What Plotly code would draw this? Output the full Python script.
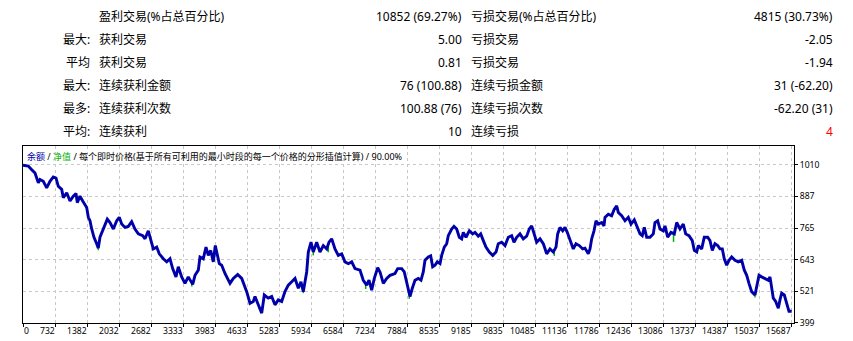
import plotly.graph_objects as go
import numpy as np

# ---------------- data ----------------
trade_no = [
    82, 189, 259, 326, 393, 427, 494, 563, 630, 697,
    752, 799, 868, 901, 970, 1037, 1104, 1159, 1185, 1240,
    1295, 1342, 1376, 1409, 1443, 1478, 1524, 1579, 1612, 1646,
    1701, 1748, 1795, 1850, 1917, 1986, 2038, 2087, 2154, 2221,
    2290, 2357, 2425, 2514, 2561, 2628, 2677, 2729, 2798, 2851,
    2933, 3002, 3069, 3123, 3190, 3237, 3306, 3373, 3440, 3530,
    3577, 3644, 3678, 3745, 3800, 3847, 3896, 3948, 3989, 4030,
    4070, 4119, 4186, 4288, 4355, 4444, 4526, 4627, 4694, 4761,
    4796, 4863, 4932, 4985, 5066, 5135, 5202, 5269, 5338, 5405,
    5472, 5542, 5609, 5676, 5730, 5777, 5846, 5879, 5934, 5980,
    6049, 6116, 6184, 6253, 6299, 6354, 6421, 6488, 6557, 6625,
    6692, 6761, 6828, 6929, 6996, 7065, 7112, 7167, 7220, 7289,
    7336, 7403, 7472, 7539, 7640, 7695, 7777, 7829, 7878, 7945,
    7992, 8047, 8114, 8169, 8215, 8250, 8317, 8366, 8406, 8453,
    8500, 8555, 8589, 8642, 8691, 8723, 8792, 8839, 8894, 8947,
    8996, 9028, 9083, 9150, 9219, 9266, 9333, 9382, 9435, 9489,
    9557, 9626, 9693, 9739, 9808, 9876, 9943, 10012, 10058, 10113,
    10180, 10247, 10316, 10369, 10418, 10465, 10520, 10587, 10654, 10723,
    10790, 10857, 10912, 10946, 10993, 11048, 11095, 11141, 11196, 11263,
    11318, 11385, 11454, 11501, 11568, 11603, 11637, 11684, 11725, 11771,
    11840, 11887, 11907, 11975, 12043, 12096, 12145, 12178, 12247, 12314,
    12381, 12436, 12503, 12572, 12619, 12665, 12706, 12755, 12822, 12889,
    12923, 12978, 13025, 13092, 13127, 13181, 13248, 13316, 13364, 13431,
    13498, 13547, 13614, 13681, 13722, 13771, 13803, 13872, 13925, 13994,
    14041, 14088, 14142, 14197, 14244, 14291, 14331, 14380, 14427, 14482,
    14549, 14616, 14685, 14738, 14787, 14833, 14888, 14955, 15010, 15037,
    15091, 15158, 15226, 15260, 15295, 15327, 15376, 15429, 15463, 15498,
    15551, 15599, 15646, 15701,
]
balance = [
    1008, 1005, 991, 978, 940, 953, 946, 921, 946, 963,
    959, 927, 915, 883, 902, 870, 889, 899, 864, 889,
    870, 857, 845, 807, 794, 762, 730, 705, 688, 730,
    755, 781, 800, 787, 762, 794, 807, 781, 768, 772,
    790, 762, 743, 736, 724, 755, 717, 685, 692, 666,
    647, 635, 647, 609, 577, 616, 577, 552, 577, 548,
    583, 603, 654, 647, 692, 660, 679, 635, 698, 660,
    628, 622, 590, 552, 571, 586, 571, 520, 475, 482,
    501, 469, 437, 507, 495, 501, 469, 488, 482, 520,
    545, 558, 571, 533, 558, 520, 596, 673, 711, 673,
    711, 673, 698, 685, 711, 724, 685, 660, 666, 635,
    628, 635, 609, 603, 564, 545, 564, 526, 571, 612,
    596, 552, 571, 583, 590, 609, 609, 596, 558, 501,
    533, 564, 571, 564, 596, 641, 654, 658, 616, 622,
    635, 628, 660, 692, 705, 736, 762, 772, 762, 730,
    724, 749, 730, 755, 743, 749, 734, 743, 717, 692,
    673, 660, 673, 705, 711, 698, 730, 736, 711, 730,
    743, 724, 734, 762, 774, 743, 711, 724, 705, 666,
    685, 673, 692, 743, 768, 755, 768, 749, 717, 685,
    705, 698, 685, 688, 666, 685, 724, 755, 794, 781,
    787, 774, 807, 819, 813, 838, 851, 826, 813, 794,
    807, 781, 797, 768, 743, 736, 768, 730, 730, 743,
    787, 794, 762, 755, 774, 730, 749, 743, 787, 762,
    781, 743, 736, 717, 679, 673, 698, 685, 730, 730,
    717, 679, 705, 698, 685, 685, 647, 622, 641, 654,
    641, 635, 641, 603, 583, 552, 520, 507, 564, 583,
    577, 571, 564, 577, 533, 495, 482, 456, 488, 514,
    507, 475, 444, 444,
]
# equity dips (green) below balance
eq_trade = [1612, 3512, 4883, 5777, 5980, 6285, 7045, 7931, 9640, 10485, 10877, 13300, 14955]
eq_low = [680, 540, 452, 514, 660, 672, 530, 492, 655, 718, 658, 712, 497]

x_tick_labels = ["0", "732", "1382", "2032", "2682", "3333", "3983", "4633", "5283",
                 "5934", "6584", "7234", "7884", "8535", "9185", "9835", "10485",
                 "11136", "11786", "12436", "13086", "13737", "14387", "15037", "15687"]
y_tick_labels = ["399", "521", "643", "765", "887", "1010"]
y_tick_values = [399.0, 521.2, 643.4, 765.6, 887.8, 1010.0]

# summary table
col_a = ["", "最大:", "平均", "最大:", "最多:", "平均:"]
col_b = ["盈利交易(%占总百分比)", "获利交易", "获利交易", "连续获利金额", "连续获利次数", "连续获利"]
col_c = ["10852 (69.27%)", "5.00", "0.81", "76 (100.88)", "100.88 (76)", "10"]
col_d = ["亏损交易(%占总百分比)", "亏损交易", "亏损交易", "连续亏损金额", "连续亏损次数", "连续亏损"]
col_e = ["4815 (30.73%)", "-2.05", "-1.94", "31 (-62.20)", "-62.20 (31)", "4"]

legend_text = ('<span style="color:#0000a8">余额</span> / '
               '<span style="color:#00b000">净值</span> / '
               '每个即时价格(基于所有可利用的最小时段的每一个价格的分形插值计算) / 90.00%')

# ---------------- layout constants ----------------
W, H = 853, 341
PL, PR, PT, PB = 23, 794, 146, 325          # plot area in pixels
X0, XSTEP = 81.78, 650.217                  # axis value at left border, value per grid cell
GRID_PX = 32.0
x_range = [X0, X0 + (PR - PL) / GRID_PX * XSTEP]
y_range = [398.8, 399 + (PB - PT) * (1010 - 399) / 160.0]
x_tick_pos = [X0 + i * XSTEP for i in range(len(x_tick_labels))]

FONT = "Noto Sans, Noto Sans CJK SC, sans-serif"

n = min(len(trade_no), len(balance))
tx = np.array(trade_no[:n], dtype=float)
by = np.array(balance[:n], dtype=float)

# equity spikes as vertical segments
ex, ey = [], []
for t, lo in zip(eq_trade, eq_low):
    ex += [t, t, None]
    ey += [float(np.interp(t, tx, by)), lo, None]

fig = go.Figure()
fig.add_trace(go.Scatter(x=ex, y=ey, mode="lines", line=dict(color="#00b000", width=1.5),
                         hoverinfo="skip", showlegend=False))
fig.add_trace(go.Scatter(x=tx, y=by, mode="lines", line=dict(color="#0000aa", width=2.9),
                         showlegend=False))

annotations = []
annotations.append(dict(x=0, y=1, xref="paper", yref="paper", xanchor="left", yanchor="top",
                        xshift=2, yshift=-2, text=legend_text, showarrow=False,
                        font=dict(family=FONT, size=9, color="#000000")))
for i, (pos, lab) in enumerate(zip(x_tick_pos, x_tick_labels)):
    annotations.append(dict(x=pos, y=0, xref="x", yref="paper",
                            xanchor="left" if i == 0 else "right", yanchor="top",
                            xshift=-1 if i == 0 else 2, yshift=0,
                            text=lab, showarrow=False,
                            font=dict(family=FONT, size=8.6, color="#000000")))


def px2x(px):
    return (px - PL) / (PR - PL)


def py2y(py):
    return (PB - py) / (PB - PT)


cols = [(col_a, 91.5, "right"), (col_b, 97, "left"), (col_c, 464, "right"),
        (col_d, 469, "left"), (col_e, 835, "right")]
for ci, (col, px, anchor) in enumerate(cols):
    for r, txt in enumerate(col):
        if not txt:
            continue
        color = "#ff0000" if (ci == 4 and r == 5) else "#000000"
        annotations.append(dict(x=px2x(px), y=py2y(15.5 + 23.1 * r), xref="paper", yref="paper",
                                xanchor=anchor, yanchor="middle", text=txt, showarrow=False,
                                font=dict(family=FONT, size=12, color=color)))

fig.update_layout(
    width=W, height=H,
    margin=dict(l=PL, r=W - PR, t=PT, b=H - PB, pad=0),
    paper_bgcolor="white", plot_bgcolor="white",
    font=dict(family=FONT, size=9, color="#000000"),
    showlegend=False,
    annotations=annotations,
    xaxis=dict(range=x_range, tickvals=x_tick_pos, showticklabels=False,
               ticks="outside", ticklen=3, tickcolor="#000000", tickwidth=1,
               showgrid=True, gridcolor="#c8c8c8", griddash="3px,3px", gridwidth=1,
               showline=True, linecolor="#000000", linewidth=1, mirror=True,
               zeroline=False, fixedrange=True),
    yaxis=dict(range=y_range, tickvals=y_tick_values, ticktext=y_tick_labels, side="right",
               ticks="outside", ticklen=3, tickcolor="#000000", tickwidth=1,
               tickfont=dict(family=FONT, size=8.6, color="#000000"),
               showgrid=True, gridcolor="#c8c8c8", griddash="3px,3px", gridwidth=1,
               showline=True, linecolor="#000000", linewidth=1, mirror=True,
               zeroline=False, fixedrange=True),
)

fig.write_html("out.html")
